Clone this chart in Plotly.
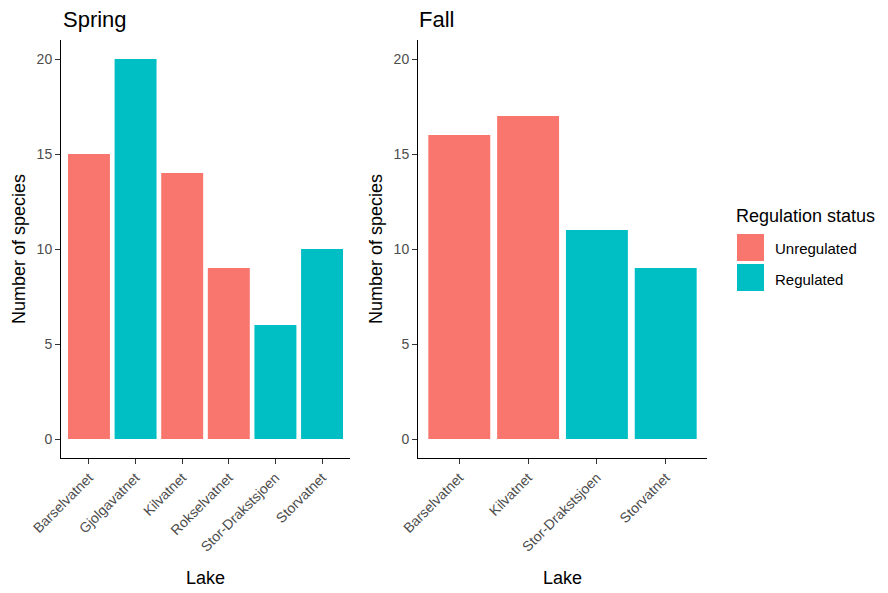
import plotly.graph_objects as go

# Species counts per lake, by season
spring_lakes = ["Barselvatnet", "Gjolgavatnet", "Kilvatnet", "Rokselvatnet", "Stor-Drakstsjoen", "Storvatnet"]
spring_counts = [15, 20, 14, 9, 6, 10]
spring_status = ["Unregulated", "Regulated", "Unregulated", "Unregulated", "Regulated", "Regulated"]

fall_lakes = ["Barselvatnet", "Kilvatnet", "Stor-Drakstsjoen", "Storvatnet"]
fall_counts = [16, 17, 11, 9]
fall_status = ["Unregulated", "Unregulated", "Regulated", "Regulated"]

status_levels = ["Unregulated", "Regulated"]
status_colors = {"Unregulated": "#F8766D", "Regulated": "#00BFC4"}
y_ticks = [0, 5, 10, 15, 20]

W, H = 888, 593
FONT = "Liberation Sans, Arial, sans-serif"

fig = go.Figure()

fig.add_trace(go.Bar(
    x=spring_lakes, y=spring_counts, width=0.9,
    marker=dict(color=[status_colors[s] for s in spring_status], line=dict(width=0)),
    xaxis="x", yaxis="y", showlegend=False,
))
fig.add_trace(go.Bar(
    x=fall_lakes, y=fall_counts, width=0.9,
    marker=dict(color=[status_colors[s] for s in fall_status], line=dict(width=0)),
    xaxis="x2", yaxis="y2", showlegend=False,
))

ydom = [1 - 458 / H, 1 - 40 / H]
xdom1 = [61 / W, 350 / W]
xdom2 = [418 / W, 707 / W]

tickfont = dict(family=FONT, size=14, color="#4D4D4D")
titlefont = dict(family=FONT, size=18, color="black")

def xaxis(dom, anchor, cats):
    return dict(
        domain=dom, anchor=anchor, type="category", automargin=False,
        categoryorder="array", categoryarray=cats,
        range=[-0.6, len(cats) - 0.4],
        showline=True, linecolor="black", linewidth=1,
        ticks="outside", ticklen=5, tickcolor="#333333", tickwidth=1,
        tickangle=-45, tickfont=tickfont,
        showgrid=False, zeroline=False,
        title=dict(text="Lake", font=titlefont, standoff=17),
    )

def yaxis(anchor):
    return dict(
        domain=ydom, anchor=anchor, range=[-1, 21], automargin=False,
        tickvals=y_ticks,
        showline=True, linecolor="black", linewidth=1,
        ticks="outside", ticklen=5, tickcolor="#333333", tickwidth=1,
        tickfont=tickfont, showgrid=False, zeroline=False,
        title=dict(text="Number of species", font=titlefont, standoff=6),
    )

fig.update_layout(
    width=W, height=H,
    margin=dict(l=0, r=0, t=0, b=0),
    paper_bgcolor="white", plot_bgcolor="white",
    font=dict(family=FONT),
    xaxis=xaxis(xdom1, "y", spring_lakes),
    yaxis=yaxis("x"),
    xaxis2=xaxis(xdom2, "y2", fall_lakes),
    yaxis2=yaxis("x2"),
    showlegend=False,
)

# Panel titles
for txt, xpx in [("Spring", 61), ("Fall", 417)]:
    fig.add_annotation(
        x=xpx / W, y=1 - 20 / H, xref="paper", yref="paper",
        text=txt, showarrow=False, xanchor="left", yanchor="middle",
        font=dict(family=FONT, size=22, color="black"),
    )

# Legend drawn to the right of the panels
fig.add_annotation(
    x=734 / W, y=1 - 216 / H, xref="paper", yref="paper",
    text="Regulation status", showarrow=False, xanchor="left", yanchor="middle",
    font=dict(family=FONT, size=18, color="black"),
)
for i, lvl in enumerate(status_levels):
    top = 234 + i * 30
    fig.add_shape(
        type="rect", xref="paper", yref="paper",
        x0=737 / W, x1=764 / W, y0=1 - (top + 27) / H, y1=1 - top / H,
        fillcolor=status_colors[lvl], line=dict(width=0),
    )
    fig.add_annotation(
        x=773 / W, y=1 - (top + 15) / H, xref="paper", yref="paper",
        text=lvl, showarrow=False, xanchor="left", yanchor="middle",
        font=dict(family=FONT, size=15, color="black"),
    )

fig.write_html("out.html")
